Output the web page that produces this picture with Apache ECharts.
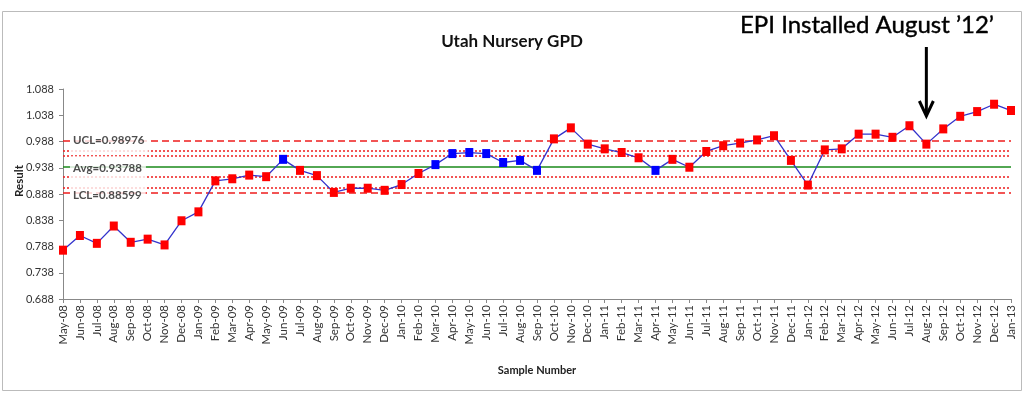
<!DOCTYPE html>
<html>
<head>
<meta charset="utf-8">
<script src="https://cdn.jsdelivr.net/npm/echarts@6/dist/echarts.min.js"></script>
<style>html,body{margin:0;padding:0;background:#fff}#c{width:1024px;height:394px}</style>
</head>
<body>
<div id="c"></div>
<script>
const categories = ['May-08','Jun-08','Jul-08','Aug-08','Sep-08','Oct-08','Nov-08','Dec-08',
  'Jan-09','Feb-09','Mar-09','Apr-09','May-09','Jun-09','Jul-09','Aug-09','Sep-09','Oct-09','Nov-09','Dec-09',
  'Jan-10','Feb-10','Mar-10','Apr-10','May-10','Jun-10','Jul-10','Aug-10','Sep-10','Oct-10','Nov-10','Dec-10',
  'Jan-11','Feb-11','Mar-11','Apr-11','May-11','Jun-11','Jul-11','Aug-11','Sep-11','Oct-11','Nov-11','Dec-11',
  'Jan-12','Feb-12','Mar-12','Apr-12','May-12','Jun-12','Jul-12','Aug-12','Sep-12','Oct-12','Nov-12','Dec-12',
  'Jan-13'];
const results = [0.781,0.809,0.794,0.827,0.796,0.802,0.791,0.837,
  0.854,0.913,0.917,0.924,0.921,0.954,0.933,0.923,0.891,0.899,0.899,0.895,
  0.906,0.927,0.944,0.965,0.967,0.965,0.948,0.952,0.933,0.993,1.014,0.983,
  0.974,0.967,0.957,0.933,0.954,0.939,0.969,0.980,0.985,0.991,0.999,0.952,
  0.905,0.972,0.974,1.002,1.002,0.996,1.018,0.983,1.012,1.036,1.045,1.059,
  1.047];
const flaggedMonths = ['Jun-09','Mar-10','Apr-10','May-10','Jun-10','Jul-10','Aug-10','Sep-10','Apr-11'];
const UCL = 0.98976, AVG = 0.93788, LCL = 0.88599;
const sigma = (UCL - AVG) / 3;
const yTicks = { min: 0.688, max: 1.088, step: 0.05 };
const annotationText = "EPI Installed August \u201912\u2019";
const annotationMonth = 'Aug-12';

const RED = '#ff0000', BLUE = '#0000ff', LINE_BLUE = '#3333cc';
const chart = echarts.init(document.getElementById('c'), null, { renderer: 'canvas' });

const pointData = results.map((v, i) => ({
  value: v,
  itemStyle: { color: flaggedMonths.includes(categories[i]) ? BLUE : RED }
}));

const dotted = { color: '#ee1c1c', type: [2, 2], width: 1.5 };
const dashed = { color: '#ee1c1c', type: [7, 4], width: 1.6 };

const option = {
  animation: false,
  textStyle: { fontFamily: 'Lato, "Open Sans", sans-serif' },
  title: {
    text: 'Utah Nursery GPD', left: 'center', top: 28,
    textStyle: { fontSize: 17, fontWeight: 'bold', color: '#111', fontFamily: 'Lato, sans-serif' }
  },
  grid: { left: 63, right: 13, top: 89, bottom: 95, containLabel: false },
  xAxis: {
    type: 'category', data: categories, boundaryGap: false,
    name: 'Sample Number', nameLocation: 'middle', nameGap: 66,
    nameTextStyle: { fontSize: 11, fontWeight: 'bold', color: '#222' },
    axisLine: { lineStyle: { color: '#888', width: 1 } },
    axisTick: { show: true, length: 4, lineStyle: { color: '#888' }, interval: 0 },
    axisLabel: { interval: 0, rotate: 90, fontSize: 11.5, color: '#333', margin: 6 },
    splitLine: { show: false }
  },
  yAxis: {
    type: 'value', min: yTicks.min, max: yTicks.max, interval: yTicks.step,
    axisLine: { show: true, lineStyle: { color: '#888', width: 1 } },
    axisTick: { show: true, length: 4, lineStyle: { color: '#888' } },
    axisLabel: { fontSize: 11, color: '#333', margin: 9, formatter: v => v.toFixed(3) },
    splitLine: { show: false }
  },
  series: [
    {
      type: 'line', data: pointData, symbol: 'rect', symbolSize: [8, 9],
      lineStyle: { color: LINE_BLUE, width: 1.3 },
      z: 5,
      markLine: {
        silent: true, symbol: 'none', label: { show: false }, z: 1,
        data: [
          { yAxis: UCL, lineStyle: dashed },
          { yAxis: AVG + 2 * sigma, lineStyle: dotted },
          { yAxis: AVG + sigma, lineStyle: dotted },
          { yAxis: AVG, lineStyle: { color: '#1a8a1a', type: 'solid', width: 1.5 } },
          { yAxis: AVG - sigma, lineStyle: dotted },
          { yAxis: AVG - 2 * sigma, lineStyle: dotted },
          { yAxis: LCL, lineStyle: dashed }
        ]
      }
    },
    {
      type: 'scatter', symbolSize: 0, z: 3, silent: true,
      data: [
        { value: [0, UCL], name: 'UCL=' + UCL },
        { value: [0, AVG], name: 'Avg=' + AVG },
        { value: [0, LCL], name: 'LCL=' + LCL }
      ],
      label: {
        show: true, position: 'right', distance: 7, formatter: p => p.name,
        backgroundColor: '#fff', padding: [6, 4, 5, 3],
        fontSize: 11.5, fontWeight: 'bold', color: '#222'
      }
    }
  ]
};
chart.setOption(option);

const ax = chart.convertToPixel({ xAxisIndex: 0 }, annotationMonth);
chart.setOption({
  graphic: [
    { type: 'rect', shape: { x: 2.5, y: 11.5, width: 1019, height: 379 },
      style: { fill: 'none', stroke: '#bbb', lineWidth: 1 }, z: 0 },
    { type: 'text', x: 19, y: 181, rotation: Math.PI / 2,
      style: { text: 'Result', fontSize: 11.5, fontWeight: 'bold', fill: '#222',
        fontFamily: 'Lato, sans-serif', align: 'center', verticalAlign: 'middle' } },
    { type: 'text', x: 740, y: 13,
      style: { text: annotationText, fontSize: 24, fill: '#000', fontFamily: 'Lato, sans-serif',
        stroke: '#000', lineWidth: 0.4 } },
    { type: 'line', shape: { x1: ax, y1: 47, x2: ax, y2: 114 },
      style: { stroke: '#000', lineWidth: 3 } },
    { type: 'polyline', shape: { points: [[ax - 7, 101], [ax, 116], [ax + 7, 101]] },
      style: { stroke: '#000', lineWidth: 3, fill: 'none' } }
  ]
});
</script>
</body>
</html>
